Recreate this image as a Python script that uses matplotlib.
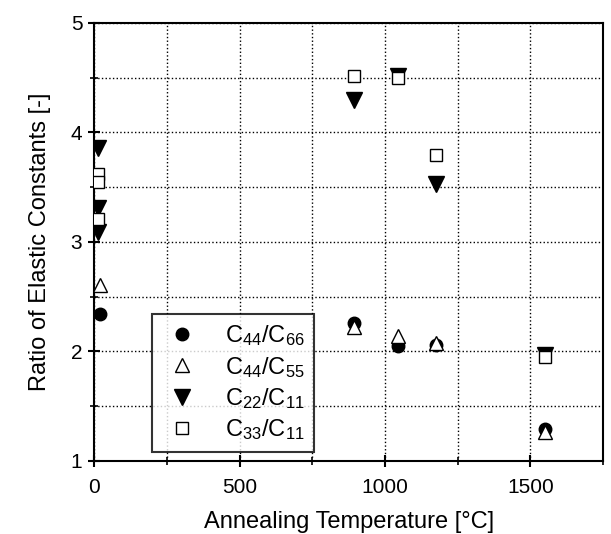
import matplotlib
matplotlib.use("Agg")
import matplotlib.pyplot as plt
from matplotlib.ticker import MultipleLocator

plt.rcParams['font.family'] = ['Liberation Sans', 'DejaVu Sans']
plt.rcParams['mathtext.fontset'] = 'custom'
plt.rcParams['mathtext.rm'] = 'Liberation Sans'
plt.rcParams['mathtext.it'] = 'Liberation Sans'

# Data
c44_c66_x = [20, 895, 1045, 1175, 1550]
c44_c66_y = [2.34, 2.26, 2.05, 2.06, 1.29]
c44_c55_x = [20, 895, 1045, 1175, 1550]
c44_c55_y = [2.61, 2.22, 2.14, 2.08, 1.26]
c22_c11_x = [15, 15, 15, 895, 1045, 1175, 1550]
c22_c11_y = [3.86, 3.31, 3.09, 4.30, 4.52, 3.53, 1.97]
c33_c11_x = [15, 15, 15, 895, 1045, 1175, 1550]
c33_c11_y = [3.62, 3.55, 3.21, 4.52, 4.50, 3.79, 1.95]

labels = ['C$_{44}$/C$_{66}$', 'C$_{44}$/C$_{55}$', 'C$_{22}$/C$_{11}$', 'C$_{33}$/C$_{11}$']

fig = plt.figure(figsize=(6.11, 5.34), dpi=100)
ax = fig.add_axes([0.154, 0.137, 0.833, 0.820])

ax.plot(c44_c66_x, c44_c66_y, 'o', ms=9, color='black', mfc='black', ls='none', label=labels[0], zorder=3)
ax.plot(c44_c55_x, c44_c55_y, '^', ms=10, color='black', mfc='white', mew=1.0, ls='none', label=labels[1], zorder=4)
ax.plot(c22_c11_x, c22_c11_y, 'v', ms=11, color='black', mfc='black', ls='none', label=labels[2], zorder=3)
ax.plot(c33_c11_x, c33_c11_y, 's', ms=8, color='black', mfc='white', mew=1.0, ls='none', label=labels[3], zorder=4)

ax.set_xlim(0, 1750)
ax.set_ylim(1, 5)
ax.xaxis.set_major_locator(MultipleLocator(500))
ax.xaxis.set_minor_locator(MultipleLocator(250))
ax.yaxis.set_major_locator(MultipleLocator(1))
ax.yaxis.set_minor_locator(MultipleLocator(0.5))

ax.grid(True, which='both', ls=':', color='black', lw=1.0)
ax.set_axisbelow(True)

ax.tick_params(which='major', direction='inout', length=9, width=1.5, labelsize=15)
ax.tick_params(axis='x', which='major', pad=8)
ax.tick_params(axis='y', which='major', pad=4)
ax.tick_params(which='minor', direction='inout', length=6, width=1.2)
for s in ax.spines.values():
    s.set_linewidth(1.5)

ax.set_xlabel('Annealing Temperature [°C]', fontsize=17, labelpad=10)
ax.set_ylabel('Ratio of Elastic Constants [-]', fontsize=17, labelpad=14)

leg = ax.legend(loc='lower left', bbox_to_anchor=(0.114, 0.02), fontsize=17, frameon=True,
                fancybox=False, edgecolor='black', handletextpad=0.95, labelspacing=0.27,
                borderpad=0.42, handlelength=1.7, borderaxespad=0)
leg.get_frame().set_linewidth(1.5)

fig.savefig('out.png', dpi=100)
